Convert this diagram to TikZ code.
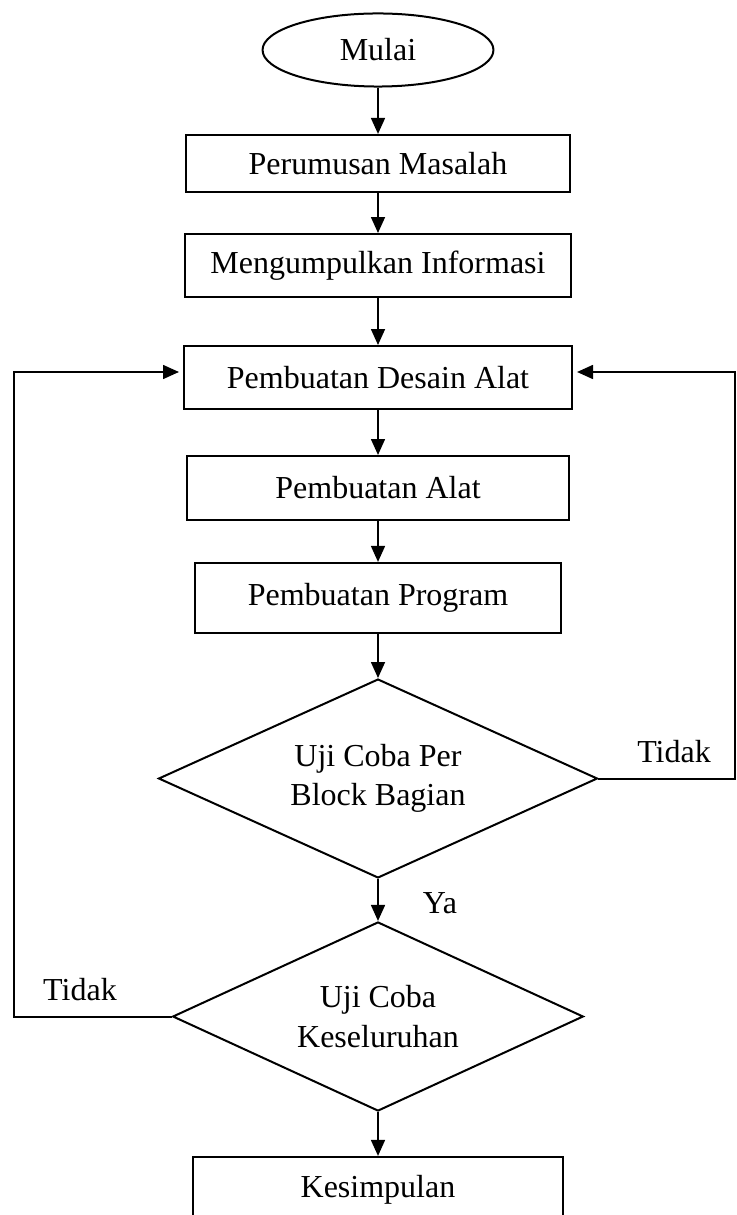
\documentclass[tikz,border=0pt]{standalone}
\usepackage{fontspec}
\setmainfont{Liberation Serif}
\usepackage{tikz}
\usetikzlibrary{shapes.geometric,arrows.meta,calc}

\tikzset{
  mulaibox/.style={draw,ellipse,inner sep=0pt,minimum width=86.6pt,minimum height=27.4pt},
  proses/.style={draw,rectangle,inner sep=0pt},
  keputusan/.style={draw,diamond,aspect=2.2,inner sep=0pt,align=center},
  panah/.style={-{Triangle[length=6pt,width=5.2pt]}},
}

\begin{document}
\begin{tikzpicture}[x=0.375pt,y=-0.375pt,line width=0.75pt,font=\fontsize{12}{14.8}\selectfont]
\useasboundingbox (0,0) rectangle (737,1215);

\node[mulaibox] (mulai) at (378,50) {Mulai};
\node[proses,minimum width=144pt,minimum height=21.4pt] (masalah) at (378,163.5) {Perumusan Masalah};
\node[proses,minimum width=144.8pt,minimum height=23.6pt] (info) at (378,265.5) {Mengumpulkan Informasi};
\node[proses,minimum width=145.5pt,minimum height=23.6pt] (desain) at (378,377.5) {Pembuatan Desain Alat};
\node[proses,minimum width=143.6pt,minimum height=24pt] (alat) at (378,488) {Pembuatan Alat};
\node[proses,minimum width=137.6pt,minimum height=26.3pt] (program) at (378,598) {Pembuatan Program};
\node[keputusan,minimum width=164.6pt,minimum height=74.6pt] (blok) at (378,778.5) {Uji Coba Per\\Block Bagian};
\node[keputusan,minimum width=154pt,minimum height=70.9pt] (total) at (378,1016.5) {Uji Coba\\Keseluruhan};
\node[proses,minimum width=138.4pt,minimum height=24.8pt] (simpul) at (378,1190) {Kesimpulan};

\node[anchor=base] (tidak1) at (674,762) {Tidak};
\node[anchor=base] (ya) at (440,913) {Ya};
\node[anchor=base] (tidak2) at (80,1000) {Tidak};

\coordinate (kiri) at (14,372);
\coordinate (kanan) at (735,372);

\draw[panah] (mulai) -- (masalah);
\draw[panah] (masalah) -- (info);
\draw[panah] (info) -- (desain);
\draw[panah] (desain) -- (alat);
\draw[panah] (alat) -- (program);
\draw[panah] (program) -- (blok);
\draw[panah] (blok) -- (total);
\draw[panah] (total) -- (simpul);

\draw[panah,shorten >=1.5pt] (total.west) -| (kiri) -- (kiri -| desain.west);
\draw[panah,shorten >=1.5pt] (blok.east) -| (kanan) -- (kanan -| desain.east);
\end{tikzpicture}
\end{document}
